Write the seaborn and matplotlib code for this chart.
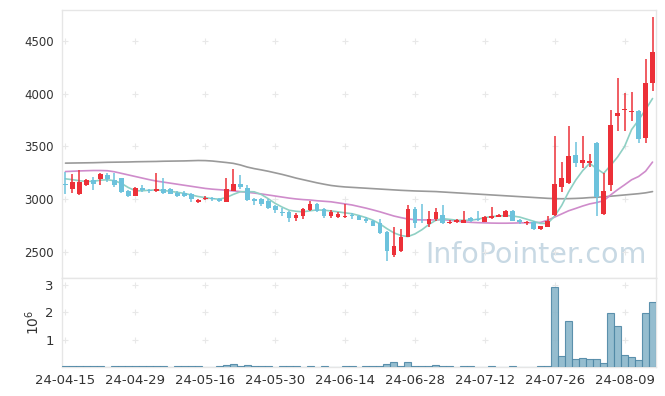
import numpy as np
import pandas as pd
import matplotlib
matplotlib.use("Agg")
import matplotlib.pyplot as plt
import seaborn as sns

# daily OHLC (KRW), 24-04-15 .. 24-08-16
opens = [3145, 3100, 3045, 3130, 3184, 3196, 3231, 3184, 3200, 3079,
         3034, 3105, 3088, 3075, 3098, 3100, 3063, 3055, 3048, 2970,
         3000, 3012, 3003, 2975, 3080, 3145, 3108, 3003, 3003, 2984,
         2933, 2882, 2882, 2820, 2837, 2898, 2955, 2905, 2845, 2835,
         2830, 2850, 2841, 2813, 2794, 2772, 2686, 2470, 2508, 2645,
         2908, 2805, 2765, 2810, 2851, 2770, 2780, 2775, 2819, 2815,
         2787, 2825, 2835, 2835, 2889, 2803, 2772, 2787, 2714, 2740,
         2851, 3120, 3152, 3421, 3342, 3345, 3532, 2857, 3130, 3786,
         3843, 3827, 3840, 3580, 4103]
closes = [3130, 3165, 3165, 3185, 3143, 3240, 3190, 3130, 3072, 3034,
          3107, 3090, 3075, 3098, 3057, 3050, 3028, 3032, 3005, 2995,
          3015, 2998, 2980, 3095, 3145, 3120, 2990, 2980, 2955, 2915,
          2893, 2865, 2820, 2850, 2907, 2955, 2890, 2845, 2880, 2860,
          2845, 2836, 2803, 2797, 2750, 2676, 2511, 2556, 2644, 2908,
          2772, 2798, 2813, 2876, 2772, 2785, 2803, 2803, 2790, 2798,
          2832, 2840, 2850, 2889, 2797, 2787, 2787, 2714, 2746, 2794,
          3145, 3200, 3412, 3342, 3374, 3365, 3025, 3079, 3707, 3818,
          3859, 3840, 3571, 4103, 4398]
highs = [3262, 3238, 3280, 3195, 3209, 3247, 3250, 3253, 3205, 3090,
         3112, 3135, 3100, 3250, 3200, 3110, 3080, 3075, 3055, 3000,
         3030, 3025, 3010, 3200, 3285, 3231, 3135, 3010, 3010, 3000,
         2945, 2915, 2885, 2865, 2915, 2984, 2960, 2912, 2895, 2875,
         2955, 2870, 2848, 2835, 2800, 2810, 2695, 2740, 2714, 2946,
         2930, 2955, 2890, 2915, 2946, 2800, 2810, 2892, 2835, 2892,
         2840, 2924, 2860, 2895, 2895, 2815, 2795, 2790, 2750, 2841,
         3602, 3352, 3690, 3538, 3595, 3430, 3540, 3247, 3843, 4151,
         4008, 4014, 3845, 4331, 4731]
lows = [3050, 3060, 3040, 3125, 3088, 3136, 3165, 3120, 3055, 3020,
        3030, 3070, 3060, 3070, 3050, 3045, 3020, 3020, 2977, 2965,
        2990, 2985, 2975, 2970, 3075, 3100, 2980, 2946, 2935, 2905,
        2868, 2840, 2787, 2795, 2810, 2890, 2880, 2818, 2820, 2825,
        2825, 2815, 2800, 2775, 2745, 2670, 2416, 2455, 2500, 2640,
        2724, 2772, 2740, 2790, 2760, 2760, 2775, 2770, 2780, 2790,
        2780, 2815, 2830, 2830, 2790, 2760, 2755, 2710, 2705, 2735,
        2840, 3072, 3140, 3310, 3300, 3310, 2841, 2850, 3080, 3643,
        3643, 3738, 3532, 3532, 4023]
# volume in millions of shares
volume_m = [0.02, 0.02, 0.03, 0.02, 0.02, 0.02, 0.004, 0.02, 0.05, 0.02,
            0.02, 0.02, 0.02, 0.02, 0.05, 0.004, 0.02, 0.02, 0.02, 0.02,
            0.004, 0.004, 0.02, 0.07, 0.10, 0.03, 0.06, 0.05, 0.02, 0.02,
            0.004, 0.02, 0.02, 0.02, 0.004, 0.02, 0.004, 0.02, 0.004, 0.004,
            0.02, 0.02, 0.004, 0.02, 0.02, 0.02, 0.10, 0.18, 0.02, 0.18,
            0.02, 0.02, 0.02, 0.06, 0.02, 0.02, 0.004, 0.02, 0.02, 0.004,
            0.004, 0.02, 0.004, 0.004, 0.02, 0.004, 0.004, 0.004, 0.02, 0.02,
            2.92, 0.40, 1.66, 0.29, 0.32, 0.29, 0.29, 0.14, 1.95, 1.48,
            0.43, 0.36, 0.25, 1.98, 2.38]
# moving averages as drawn
ma5 = [3193, 3185, 3175, 3168, 3170, 3180, 3184, 3175, 3150, 3110,
       3080, 3080, 3085, 3088, 3082, 3075, 3065, 3055, 3040, 3025,
       3015, 3005, 3000, 3015, 3045, 3070, 3072, 3070, 3045, 3005,
       2960, 2925, 2895, 2885, 2880, 2890, 2898, 2895, 2888, 2880,
       2870, 2862, 2845, 2825, 2800, 2765, 2720, 2680, 2655, 2645,
       2670, 2710, 2760, 2800, 2815, 2808, 2800, 2800, 2800, 2810,
       2825, 2835, 2840, 2845, 2840, 2830, 2810, 2790, 2770, 2770,
       2840, 2940, 3070, 3180, 3270, 3340, 3290, 3245, 3320, 3400,
       3500, 3660, 3750, 3850, 3955]
ma20 = [3262, 3265, 3268, 3270, 3272, 3272, 3270, 3260, 3245, 3230,
        3215, 3200, 3185, 3172, 3162, 3152, 3142, 3132, 3122, 3112,
        3102, 3095, 3090, 3085, 3078, 3072, 3065, 3058, 3050, 3040,
        3030, 3020, 3010, 3002, 2996, 2992, 2985, 2980, 2975, 2965,
        2955, 2945, 2930, 2915, 2898, 2880, 2860, 2840, 2825, 2812,
        2805, 2803, 2803, 2803, 2805, 2800, 2792, 2785, 2780, 2777,
        2775, 2773, 2772, 2772, 2773, 2775, 2776, 2777, 2780, 2800,
        2830, 2860, 2890, 2912, 2935, 2955, 2968, 2985, 3040, 3090,
        3136, 3184, 3215, 3265, 3352]
ma60 = [3342, 3343, 3344, 3345, 3346, 3348, 3350, 3351, 3352, 3353,
        3355, 3356, 3357, 3358, 3360, 3361, 3362, 3363, 3365, 3367,
        3366, 3362, 3355, 3348, 3340, 3325, 3305, 3290, 3278, 3265,
        3250, 3235, 3218, 3200, 3185, 3170, 3155, 3142, 3130, 3122,
        3116, 3112, 3108, 3104, 3100, 3096, 3092, 3088, 3084, 3081,
        3078, 3076, 3074, 3072, 3068, 3064, 3060, 3056, 3052, 3048,
        3044, 3040, 3036, 3032, 3028, 3024, 3020, 3016, 3012, 3008,
        3005, 3004, 3005, 3007, 3010, 3015, 3018, 3022, 3028, 3034,
        3040, 3046, 3052, 3060, 3072]
tick_labels = ["24-04-15", "24-04-29", "24-05-16", "24-05-30", "24-06-14",
               "24-06-28", "24-07-12", "24-07-26", "24-08-09"]

df = pd.DataFrame({"open": opens, "high": highs, "low": lows, "close": closes,
                   "vol": volume_m, "ma5": ma5, "ma20": ma20, "ma60": ma60})
df["i"] = np.arange(len(df))
up = df["close"] >= df["open"]

sns.set_theme(style="white")
plt.rcParams["font.family"] = ["DejaVu Sans"]

UP, DOWN = "#ec3038", "#6cc2dc"
GRID = "#e8e8e8"
SPINE = "#e6e6e6"

fig = plt.figure(figsize=(6.65, 3.96), dpi=100)
ax = fig.add_axes([0.0932, 0.298, 0.8933, 0.6767])
axv = fig.add_axes([0.0932, 0.0732, 0.8933, 0.2248], sharex=ax)

# price panel
ax.text(0.985, 0.085, "InfoPointer.com", transform=ax.transAxes, ha="right",
        va="center", fontsize=20.5, color="#c8d9e4", zorder=0)
sns.lineplot(data=df, x="i", y="ma60", ax=ax, color="#9a9a9a", linewidth=1.2, zorder=2)
sns.lineplot(data=df, x="i", y="ma20", ax=ax, color="#cf8ccb", linewidth=1.2, zorder=2)
sns.lineplot(data=df, x="i", y="ma5", ax=ax, color="#8fd0c4", linewidth=1.2, zorder=2)

colors = np.where(up, UP, DOWN)
ax.vlines(df["i"], df["low"], df["high"], colors=colors, linewidth=1.1, zorder=3)
body_lo = np.minimum(df["open"], df["close"])
body_h = np.maximum((df["close"] - df["open"]).abs(), 6)
ax.bar(df["i"], body_h, bottom=body_lo, width=0.68, color=colors, linewidth=0, zorder=4)

ax.set_xlim(-0.5, 84.5)
ax.set_ylim(2252, 4795)
ax.set_yticks([2500, 3000, 3500, 4000, 4500])
ax.set_xlabel("")
ax.set_ylabel("")
tick_pos = np.arange(0, len(df), 10)
gx, gy = np.meshgrid(tick_pos, ax.get_yticks())
ax.scatter(gx.ravel(), gy.ravel(), marker="+", s=14, color=GRID, linewidths=0.8, zorder=1)
ax.tick_params(axis="x", labelbottom=False, length=0)
ax.tick_params(axis="y", length=0, labelsize=8.5, colors="#333333", pad=6)

# volume panel
sns.barplot(data=df, x="i", y="vol", ax=axv, native_scale=True, width=1.0,
            color="#8ab6ca", saturation=1, edgecolor="#4f88a6", linewidth=0.8,
            alpha=0.9, zorder=3)
axv.set_ylim(0, 3.24)
axv.set_yticks([1, 2, 3])
axv.set_xticks(tick_pos)
axv.set_xticklabels(tick_labels)
axv.set_xlim(-0.5, 84.5)
axv.set_xlabel("")
axv.set_ylabel(r"$10^6$", fontsize=10, color="#333333", labelpad=2)
vx, vy = np.meshgrid(tick_pos, [1, 2, 3])
axv.scatter(vx.ravel(), vy.ravel(), marker="+", s=14, color=GRID, linewidths=0.8, zorder=1)
axv.tick_params(axis="x", length=0, labelsize=9.5, colors="#333333", pad=5)
axv.tick_params(axis="y", length=0, labelsize=9.5, colors="#333333", pad=6)

for a in (ax, axv):
    for s in a.spines.values():
        s.set_color(SPINE)
        s.set_linewidth(1)

fig.savefig("out.png", dpi=100)
